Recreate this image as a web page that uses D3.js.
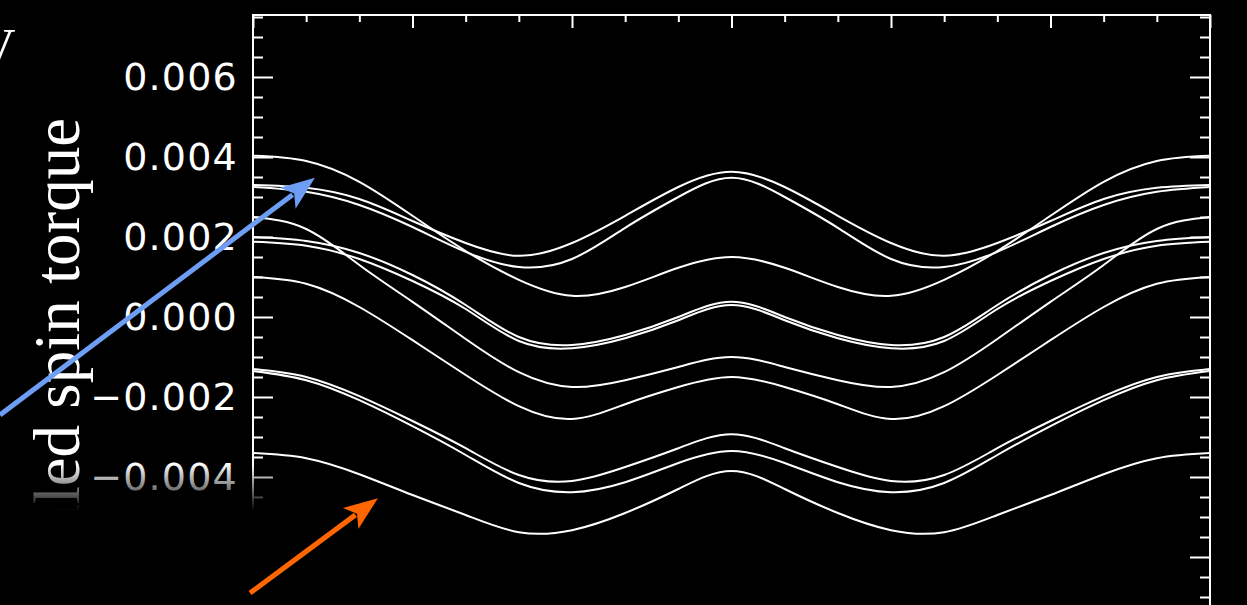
<!DOCTYPE html>
<html>
<head>
<meta charset="utf-8">
<script src="https://cdn.jsdelivr.net/npm/d3@7"></script>
<style>
  html, body { margin: 0; padding: 0; background: #000; overflow: hidden; }
  svg { display: block; }
</style>
</head>
<body>
<div id="chart"></div>
<script>
// Angle samples (degrees) for every curve
var angles = [0, 20, 40, 60, 80, 100, 120, 140, 160, 180, 200, 220, 240, 260, 280, 300, 320, 340, 360];

// Scaled spin torque, one array per curve
var torque1 = [0.0033, 0.00323, 0.00295, 0.0024, 0.00185, 0.00153, 0.00185, 0.00253, 0.00325, 0.00363, 0.00325, 0.00253, 0.00185, 0.00153, 0.00185, 0.0024, 0.00295, 0.00323, 0.0033];
var torque2 = [0.00325, 0.00313, 0.0028, 0.00225, 0.00163, 0.00125, 0.00145, 0.00223, 0.003, 0.00348, 0.003, 0.00223, 0.00145, 0.00125, 0.00163, 0.00225, 0.0028, 0.00313, 0.00325];
var torque3 = [0.00403, 0.0039, 0.00338, 0.00253, 0.00165, 0.00093, 0.00053, 0.00075, 0.00123, 0.0015, 0.00123, 0.00075, 0.00053, 0.00093, 0.00165, 0.00253, 0.00338, 0.0039, 0.00403];
var torque4 = [0.002, 0.0019, 0.0016, 0.00105, 0.0003, -0.0005, -0.0007, -0.00045, 0.0, 0.00038, 0.0, -0.00045, -0.0007, -0.0005, 0.0003, 0.00105, 0.0016, 0.0019, 0.002];
var torque5 = [0.00188, 0.00178, 0.00145, 0.0009, 0.0002, -0.0006, -0.00078, -0.00053, -0.00008, 0.0003, -0.00008, -0.00053, -0.00078, -0.0006, 0.0002, 0.0009, 0.00145, 0.00178, 0.00188];
var torque6 = [0.0025, 0.0022, 0.0013, 0.00038, -0.00055, -0.00138, -0.00175, -0.00158, -0.00125, -0.001, -0.00125, -0.00158, -0.00175, -0.00138, -0.00055, 0.00038, 0.0013, 0.0022, 0.0025];
var torque7 = [0.001, 0.00083, 0.00025, -0.00058, -0.00145, -0.00223, -0.00255, -0.00218, -0.00175, -0.0015, -0.00175, -0.00218, -0.00255, -0.00223, -0.00145, -0.00058, 0.00025, 0.00083, 0.001];
var torque8 = [-0.0013, -0.0015, -0.00198, -0.0026, -0.00328, -0.00395, -0.0041, -0.00375, -0.00328, -0.00293, -0.00328, -0.00375, -0.0041, -0.00395, -0.00328, -0.0026, -0.00198, -0.0015, -0.0013];
var torque9 = [-0.00135, -0.00158, -0.00208, -0.00273, -0.00345, -0.00415, -0.00438, -0.00413, -0.00365, -0.00335, -0.00365, -0.00413, -0.00438, -0.00415, -0.00345, -0.00273, -0.00208, -0.00158, -0.00135];
var torque10 = [-0.0034, -0.00353, -0.00393, -0.00445, -0.00495, -0.00538, -0.00533, -0.0049, -0.0043, -0.00385, -0.0043, -0.0049, -0.00533, -0.00538, -0.00495, -0.00445, -0.00393, -0.00353, -0.0034];
var curves = [torque1, torque2, torque3, torque4, torque5, torque6, torque7, torque8, torque9, torque10];

// Tick values
var xMajorTicks = [0, 60, 120, 180, 240, 300, 360];
var xMinorTicks = [20, 40, 80, 100, 140, 160, 200, 220, 260, 280, 320, 340];
var yMajorTicks = [-0.006, -0.004, -0.002, 0.0, 0.002, 0.004, 0.006];
var yMinorTicks = [-0.0075, -0.007, -0.0065, -0.0055, -0.005, -0.0045, -0.0035, -0.003, -0.0025,
                   -0.0015, -0.001, -0.0005, 0.0005, 0.001, 0.0015, 0.0025, 0.003, 0.0035,
                   0.0045, 0.005, 0.0055, 0.0065, 0.007, 0.0075];

// Annotation arrows in data units: [tailAngle, tailValue, tipAngle, tipValue]
var blueArrow = [-95.2, -0.00245, 23.3, 0.00348];
var orangeArrow = [-1.1, -0.0069, 47.0, -0.00453];

var width = 1247, height = 605;

var svg = d3.select("#chart")
    .append("svg")
        .attr("width", width)
        .attr("height", height)
        .style("background", "#000");

// Scales
var x = d3.scaleLinear()
        .domain([0, 360])
        .range([253, 1210]);
var y = d3.scaleLinear()
        .domain([-0.0075, 0.00755])
        .range([617, 15]);

// Clip for the plot area
svg.append("defs").append("clipPath")
        .attr("id", "plotclip")
    .append("rect")
        .attr("x", x(0))
        .attr("y", y(0.00755))
        .attr("width", x(360) - x(0))
        .attr("height", y(-0.0075) - y(0.00755));

// Fade-out gradient at the lower left
var grad = svg.select("defs").append("linearGradient")
        .attr("id", "fade")
        .attr("x1", 0).attr("y1", 0)
        .attr("x2", 0).attr("y2", 1);
grad.append("stop").attr("offset", "0%").attr("stop-color", "#000").attr("stop-opacity", 0);
grad.append("stop").attr("offset", "33%").attr("stop-color", "#000").attr("stop-opacity", 1);
grad.append("stop").attr("offset", "100%").attr("stop-color", "#000").attr("stop-opacity", 1);

// Axis label (rotated, partly cut off at the left)
svg.append("text")
    .attr("transform", "translate(79,118) rotate(-90)")
    .attr("text-anchor", "end")
    .attr("font-family", "'Liberation Serif', 'Times New Roman', serif")
    .attr("font-size", 65)
    .attr("fill", "#fff")
    .text("Scaled spin torque");

svg.append("text")
    .attr("x", -22)
    .attr("y", 65)
    .attr("font-family", "'Liberation Serif', 'Times New Roman', serif")
    .attr("font-size", 52)
    .attr("fill", "#fff")
    .text("V");

// Frame
svg.append("rect")
    .attr("x", x(0))
    .attr("y", y(0.00755))
    .attr("width", x(360) - x(0))
    .attr("height", y(-0.0075) - y(0.00755))
    .attr("fill", "none")
    .attr("stroke", "#fff")
    .attr("stroke-width", 2);

function styleAxis(g) {
    g.select(".domain").remove();
    g.selectAll(".tick line").attr("stroke", "#fff").attr("stroke-width", 2);
    g.selectAll(".tick text").attr("fill", "#fff");
}

// Top axis
svg.append("g")
    .attr("transform", "translate(0," + y(0.00755) + ")")
    .call(d3.axisTop(x).tickValues(xMinorTicks).tickSize(-7).tickFormat(""))
    .call(styleAxis);
svg.append("g")
    .attr("transform", "translate(0," + y(0.00755) + ")")
    .call(d3.axisTop(x).tickValues(xMajorTicks).tickSize(-13).tickFormat(""))
    .call(styleAxis);

// Left axis
svg.append("g")
    .attr("transform", "translate(" + x(0) + ",0)")
    .call(d3.axisLeft(y).tickValues(yMinorTicks).tickSize(-10).tickFormat(""))
    .call(styleAxis);
svg.append("g")
    .attr("transform", "translate(" + x(0) + ",0)")
    .call(d3.axisLeft(y).tickValues(yMajorTicks).tickSize(-20).tickPadding(15).tickFormat(d3.format(".3f")))
    .call(styleAxis)
    .call(g => g.selectAll(".tick text")
        .attr("font-family", "'DejaVu Sans', sans-serif")
        .attr("font-size", 38)
        .attr("letter-spacing", 1.2));

// Right axis
svg.append("g")
    .attr("transform", "translate(" + x(360) + ",0)")
    .call(d3.axisRight(y).tickValues(yMinorTicks).tickSize(-10).tickFormat(""))
    .call(styleAxis);
svg.append("g")
    .attr("transform", "translate(" + x(360) + ",0)")
    .call(d3.axisRight(y).tickValues(yMajorTicks).tickSize(-20).tickFormat(""))
    .call(styleAxis);

// Curves
var line = d3.line()
        .x((d, i) => x(angles[i]))
        .y(d => y(d))
        .curve(d3.curveNatural);

svg.append("g")
        .attr("clip-path", "url(#plotclip)")
    .selectAll("path")
    .data(curves)
    .join("path")
        .attr("d", line)
        .attr("fill", "none")
        .attr("stroke", "#fff")
        .attr("stroke-width", 2);

// Fade the lower-left corner
svg.append("rect")
    .attr("x", 0)
    .attr("y", 464)
    .attr("width", 276)
    .attr("height", height - 464)
    .attr("fill", "url(#fade)");

// Arrows
function drawArrow(a, color) {
    let x0 = x(a[0]), y0 = y(a[1]), x1 = x(a[2]), y1 = y(a[3]);
    let ang = Math.atan2(y1 - y0, x1 - x0);
    let len = 34, half = 13;
    let bx = x1 - len * Math.cos(ang), by = y1 - len * Math.sin(ang);
    svg.append("line")
        .attr("x1", x0).attr("y1", y0)
        .attr("x2", bx + 6 * Math.cos(ang)).attr("y2", by + 6 * Math.sin(ang))
        .attr("stroke", color)
        .attr("stroke-width", 5);
    let pts = [
        [x1, y1],
        [bx - half * Math.sin(ang), by + half * Math.cos(ang)],
        [bx + 8 * Math.cos(ang), by + 8 * Math.sin(ang)],
        [bx + half * Math.sin(ang), by - half * Math.cos(ang)]
    ];
    svg.append("polygon")
        .attr("points", pts.map(p => p.join(",")).join(" "))
        .attr("fill", color);
}

drawArrow(blueArrow, "#6e9ef4");
drawArrow(orangeArrow, "#ff6600");
</script>
</body>
</html>
